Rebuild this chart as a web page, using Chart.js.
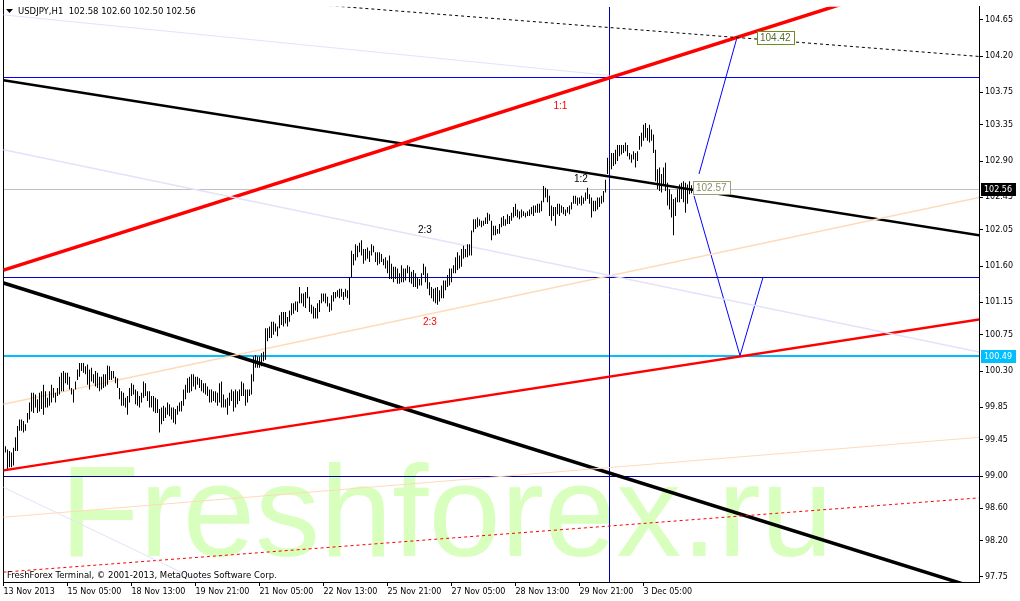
<!DOCTYPE html>
<html>
<head>
<meta charset="utf-8">
<script src="https://cdn.jsdelivr.net/npm/chart.js@4.4.1/dist/chart.umd.min.js"></script>
<style>
  body { margin: 0; background: #fff; }
  #wrap { width: 1020px; height: 601px; }
</style>
</head>
<body>
<div id="wrap"><canvas id="usdjpyChart" width="1020" height="601"></canvas></div>
<script>
// USDJPY H1 - maximas e minimas de cada barra (indice 0 = 13 Nov 21:00)
const highs = [
  99.44, 99.37, 99.33, 99.31, 99.29, 99.35, 99.48, 99.62, 99.70, 99.70,
  99.68, 99.64, 99.78, 99.91, 100.03, 100.03, 100.01, 99.95, 100.03, 100.05,
  100.13, 100.05, 99.97, 100.05, 100.13, 100.09, 100.03, 100.09, 100.23, 100.28,
  100.30, 100.28, 100.28, 100.23, 100.09, 100.07, 100.17, 100.32, 100.40, 100.40,
  100.40, 100.36, 100.38, 100.32, 100.34, 100.26, 100.30, 100.28, 100.23, 100.23,
  100.26, 100.26, 100.37, 100.36, 100.30, 100.30, 100.23, 100.21, 100.09, 100.05,
  100.03, 99.97, 99.99, 100.09, 100.15, 100.13, 100.07, 100.05, 99.99, 100.03,
  100.17, 100.15, 100.05, 100.05, 99.99, 99.99, 99.97, 99.95, 99.83, 99.85,
  99.87, 99.85, 99.91, 99.89, 99.85, 99.85, 99.83, 99.87, 99.91, 99.93,
  100.07, 100.13, 100.21, 100.23, 100.26, 100.26, 100.23, 100.23, 100.21, 100.19,
  100.15, 100.15, 100.11, 100.07, 100.07, 100.05, 100.05, 100.03, 100.15, 100.17,
  100.01, 99.95, 99.97, 100.03, 100.07, 100.05, 100.07, 100.05, 100.07, 100.17,
  100.15, 100.07, 100.07, 100.07, 100.26, 100.48, 100.50, 100.48, 100.48, 100.52,
  100.54, 100.83, 100.83, 100.85, 100.91, 100.91, 100.89, 100.85, 100.99, 101.03,
  101.03, 101.03, 100.97, 101.05, 101.14, 101.14, 101.16, 101.16, 101.34, 101.26,
  101.26, 101.28, 101.34, 101.22, 101.12, 101.10, 101.08, 101.14, 101.18, 101.26,
  101.26, 101.26, 101.22, 101.14, 101.24, 101.28, 101.28, 101.30, 101.32, 101.32,
  101.28, 101.32, 101.30, 101.46, 101.79, 101.75, 101.87, 101.85, 101.89, 101.92,
  101.81, 101.81, 101.83, 101.79, 101.87, 101.85, 101.77, 101.77, 101.77, 101.75,
  101.69, 101.71, 101.67, 101.73, 101.63, 101.59, 101.59, 101.57, 101.51, 101.61,
  101.57, 101.57, 101.61, 101.59, 101.53, 101.55, 101.51, 101.46, 101.44, 101.51,
  101.63, 101.59, 101.51, 101.40, 101.34, 101.32, 101.33, 101.34, 101.30, 101.36,
  101.42, 101.42, 101.49, 101.57, 101.57, 101.61, 101.71, 101.77, 101.73, 101.81,
  101.85, 101.81, 101.87, 101.87, 102.04, 102.18, 102.18, 102.20, 102.18, 102.16,
  102.16, 102.20, 102.26, 102.24, 102.16, 102.10, 102.10, 102.06, 102.12, 102.20,
  102.22, 102.18, 102.24, 102.22, 102.26, 102.33, 102.37, 102.30, 102.28, 102.30,
  102.28, 102.26, 102.28, 102.30, 102.33, 102.35, 102.35, 102.37, 102.37, 102.41,
  102.59, 102.57, 102.55, 102.47, 102.35, 102.33, 102.33, 102.37, 102.37, 102.35,
  102.33, 102.30, 102.33, 102.35, 102.39, 102.47, 102.47, 102.45, 102.45, 102.47,
  102.45, 102.51, 102.57, 102.49, 102.45, 102.41, 102.41, 102.45, 102.45, 102.47,
  102.53, 102.67, 102.94, 102.90, 103.00, 103.00, 103.04, 103.10, 103.10, 103.10,
  103.10, 103.13, 103.10, 103.00, 102.98, 103.02, 103.00, 103.02, 103.21, 103.25,
  103.35, 103.37, 103.31, 103.35, 103.29, 103.23, 103.04, 102.80, 102.82, 102.74,
  102.82, 102.88, 102.63, 102.55, 102.49, 102.43, 102.45, 102.55, 102.61, 102.63,
  102.65, 102.63, 102.61, 102.65, 102.60
];
const lows = [
  99.31, 99.29, 99.09, 99.11, 99.11, 99.13, 99.31, 99.31, 99.56, 99.56,
  99.54, 99.56, 99.66, 99.70, 99.80, 99.78, 99.85, 99.78, 99.80, 99.83,
  99.76, 99.85, 99.85, 99.87, 99.91, 99.97, 99.91, 99.99, 100.01, 100.05,
  100.05, 100.15, 100.13, 100.07, 100.01, 99.91, 100.07, 100.19, 100.23, 100.30,
  100.28, 100.26, 100.13, 100.07, 100.17, 100.15, 100.11, 100.09, 100.05, 100.07,
  100.09, 100.11, 100.13, 100.19, 100.19, 100.21, 100.15, 100.09, 99.95, 99.87,
  99.87, 99.85, 99.76, 99.91, 99.99, 100.01, 99.89, 99.87, 99.85, 99.91,
  99.97, 99.99, 99.93, 99.85, 99.85, 99.80, 99.78, 99.78, 99.54, 99.64,
  99.68, 99.72, 99.76, 99.74, 99.70, 99.66, 99.64, 99.76, 99.80, 99.80,
  99.87, 99.95, 100.03, 100.03, 100.05, 100.11, 100.07, 100.13, 100.09, 100.05,
  100.03, 100.01, 99.99, 99.91, 99.91, 99.93, 99.91, 99.87, 99.91, 99.85,
  99.85, 99.85, 99.76, 99.87, 99.93, 99.80, 99.85, 99.89, 99.93, 99.99,
  99.99, 99.87, 99.91, 99.99, 100.01, 100.17, 100.34, 100.34, 100.34, 100.36,
  100.42, 100.44, 100.67, 100.71, 100.71, 100.75, 100.79, 100.73, 100.83, 100.87,
  100.85, 100.89, 100.85, 100.91, 100.99, 101.01, 101.05, 101.03, 101.14, 101.14,
  101.10, 101.08, 101.20, 101.03, 101.01, 100.95, 100.95, 100.95, 101.03, 101.14,
  101.16, 101.14, 101.10, 101.03, 101.05, 101.16, 101.20, 101.22, 101.20, 101.22,
  101.18, 101.22, 101.20, 101.12, 101.46, 101.61, 101.67, 101.71, 101.77, 101.73,
  101.63, 101.67, 101.69, 101.65, 101.73, 101.77, 101.65, 101.61, 101.63, 101.65,
  101.61, 101.57, 101.51, 101.44, 101.44, 101.40, 101.44, 101.38, 101.38, 101.40,
  101.40, 101.42, 101.51, 101.40, 101.38, 101.34, 101.34, 101.32, 101.36, 101.36,
  101.49, 101.40, 101.32, 101.24, 101.20, 101.16, 101.14, 101.12, 101.16, 101.20,
  101.20, 101.30, 101.34, 101.36, 101.40, 101.51, 101.51, 101.55, 101.57, 101.59,
  101.69, 101.71, 101.71, 101.73, 101.73, 102.02, 102.06, 102.08, 102.10, 102.08,
  102.10, 102.12, 102.12, 102.16, 101.92, 101.98, 101.98, 102.00, 102.00, 102.08,
  102.10, 102.10, 102.12, 102.12, 102.16, 102.20, 102.22, 102.20, 102.18, 102.20,
  102.22, 102.20, 102.22, 102.22, 102.24, 102.22, 102.26, 102.26, 102.26, 102.28,
  102.39, 102.45, 102.39, 102.22, 102.16, 102.22, 102.10, 102.24, 102.22, 102.26,
  102.24, 102.22, 102.26, 102.24, 102.30, 102.37, 102.37, 102.35, 102.37, 102.35,
  102.37, 102.41, 102.43, 102.37, 102.20, 102.28, 102.28, 102.30, 102.33, 102.37,
  102.39, 102.51, 102.74, 102.78, 102.80, 102.84, 102.86, 102.90, 102.96, 102.98,
  103.00, 103.02, 102.96, 102.92, 102.88, 102.92, 102.82, 102.90, 103.04, 103.08,
  103.15, 103.19, 103.15, 103.13, 103.15, 103.00, 102.65, 102.55, 102.53, 102.51,
  102.59, 102.53, 102.35, 102.30, 102.20, 101.98, 102.22, 102.39, 102.39, 102.43,
  102.39, 102.26, 102.37, 102.49, 102.50
];

const priceTicks = [104.65, 104.20, 103.75, 103.35, 102.90, 102.45, 102.05, 101.60, 101.15,
  100.75, 100.30, 99.85, 99.45, 99.00, 98.60, 98.20, 97.75];
const timeTicks = [0, 32, 64, 96, 128, 160, 192, 224, 256, 288, 320];
const timeLabels = ['13 Nov 2013', '15 Nov 05:00', '18 Nov 13:00', '19 Nov 21:00', '21 Nov 05:00',
  '22 Nov 13:00', '25 Nov 21:00', '27 Nov 05:00', '28 Nov 13:00', '29 Nov 21:00', '3 Dec 05:00'];
const lastBar = [102.58, 102.60, 102.50, 102.56]; // O H L C

// linhas de tendencia: [barra, preco]
const redChannelTop = [[0, 101.55], [420, 104.85]];
const redChannelLow = [[0, 99.07], [488, 100.94]];
const blackTrendTop = [[0, 103.90], [488, 101.98]];
const blackTrendLow = [[0, 101.39], [488, 97.60]];
const lavenderA = [[0, 104.71], [303, 103.96]];
const lavenderB = [[0, 103.04], [488, 100.535]];
const lavenderC = [[0, 98.86], [110, 97.56]];
const peachA = [[0, 99.89], [488, 102.45]];
const peachB = [[0, 98.49], [488, 99.48]];
const redDotted = [[0, 97.81], [488, 98.73]];
const blackDashed = [[160, 104.83], [488, 104.195]];
const forecastUp = [[347.75, 102.74], [366.75, 104.43]];
const forecastZig = [[345.25, 102.47], [368.25, 100.49], [379.75, 101.46]];
const levelBlue = 103.94;
const levelMid = 101.46;
const level99 = 99.00;
const levelCyan = 100.49;
const currentPrice = 102.56;
const cursorBar = 303;
const priceTags = [[344.75, 102.57], [376.75, 104.42]];

function linha(pts, cor, largura, traco) {
  return {
    type: 'line',
    data: pts.map(p => ({ x: p[0], y: p[1] })),
    borderColor: cor,
    borderWidth: largura,
    borderDash: traco || [],
    pointRadius: 0,
    fill: false,
    tension: 0,
    clip: 0,
    order: 5
  };
}

const desenho = {
  id: 'desenho',
  beforeDatasetsDraw(chart) {
    const { ctx, chartArea: a } = chart;
    const xs = chart.scales.x, ys = chart.scales.y;
    ctx.save();
    ctx.beginPath();
    ctx.rect(a.left, a.top, a.right - a.left, a.bottom - a.top);
    ctx.clip();
    ctx.fillStyle = '#d9ffbf';
    ctx.font = '130px "Liberation Sans"';
    ctx.textBaseline = 'alphabetic';
    ctx.fillText('Freshforex.ru', 60, 556);
    // niveis horizontais e linha vertical, alinhados ao pixel
    const niveis = [[currentPrice, '#c0c0c0', 1], [levelBlue, '#0000ff', 1], [levelMid, '#0000c8', 1],
      [level99, '#0000a0', 1], [levelCyan, '#00bfff', 2]];
    niveis.forEach(n => {
      const y = Math.round(ys.getPixelForValue(n[0])) + (n[2] === 1 ? 0.5 : 0);
      ctx.strokeStyle = n[1];
      ctx.lineWidth = n[2];
      ctx.beginPath();
      ctx.moveTo(a.left, y);
      ctx.lineTo(a.right, y);
      ctx.stroke();
    });
    const xc = Math.floor(xs.getPixelForValue(cursorBar)) + 0.5;
    ctx.strokeStyle = '#0000b0';
    ctx.lineWidth = 1;
    ctx.beginPath();
    ctx.moveTo(xc, a.top);
    ctx.lineTo(xc, a.bottom);
    ctx.stroke();
    ctx.restore();
    ctx.save();
    ctx.strokeStyle = '#000';
    ctx.lineWidth = 1;
    ctx.beginPath();
    ctx.moveTo(a.left + 0.5, 0);
    ctx.lineTo(a.left + 0.5, a.bottom);
    ctx.stroke();
    ctx.restore();
  },
  afterDatasetsDraw(chart) {
    const { ctx } = chart;
    const xs = chart.scales.x, ys = chart.scales.y;
    ctx.save();
    ctx.font = '10px "Liberation Sans"';
    ctx.textBaseline = 'middle';
    ctx.textAlign = 'left';
    const marcas = [['1:1', 275, 103.58, '#ff0000'], ['1:2', 285.25, 102.67, '#000'],
      ['2:3', 207.25, 102.04, '#000'], ['2:3', 209.75, 100.91, '#ff0000']];
    marcas.forEach(m => {
      ctx.fillStyle = m[3];
      ctx.fillText(m[0], xs.getPixelForValue(m[1]), ys.getPixelForValue(m[2]));
    });
    priceTags.forEach((t, k) => {
      const x = Math.round(xs.getPixelForValue(t[0]));
      const y = Math.round(ys.getPixelForValue(t[1]));
      const txt = t[1].toFixed(2);
      const w = Math.round(ctx.measureText(txt).width) + 6;
      ctx.fillStyle = '#fff';
      ctx.fillRect(x, y - 7, w, 14);
      ctx.strokeStyle = k === 0 ? '#9aa070' : '#6b8e23';
      ctx.lineWidth = 1;
      ctx.strokeRect(x + 0.5, y - 6.5, w, 13);
      ctx.fillStyle = k === 0 ? '#8a8f60' : '#556b2f';
      ctx.fillText(txt, x + 3, y + 0.5);
    });
    ctx.restore();
  },
  afterDraw(chart) {
    const { ctx, chartArea: a } = chart;
    const ys = chart.scales.y;
    ctx.save();
    ctx.font = '8px "DejaVu Sans"';
    ctx.textBaseline = 'middle';
    [[currentPrice, '#000'], [levelCyan, '#00bfff']].forEach(b => {
      const y = Math.round(ys.getPixelForValue(b[0]));
      ctx.fillStyle = b[1];
      ctx.fillRect(a.right + 2, y - 6, 35, 13);
      ctx.fillStyle = '#fff';
      ctx.fillText(b[0].toFixed(2), a.right + 5, y + 0.5);
    });
    // titulo
    ctx.font = '8.5px "DejaVu Sans"';
    ctx.fillStyle = '#000';
    ctx.beginPath();
    ctx.moveTo(6, 9); ctx.lineTo(13, 9); ctx.lineTo(9.5, 13); ctx.closePath();
    ctx.fill();
    ctx.fillText('USDJPY,H1  ' + lastBar.map(v => v.toFixed(2)).join(' '), 18, 11.5);
    ctx.textBaseline = 'alphabetic';
    ctx.fillText('FreshForex Terminal, \u00a9 2001-2013, MetaQuotes Software Corp.', 7, 578);
    ctx.restore();
  }
};

const barras = highs.map((h, i) => ({ x: i, y: [lows[i], h] }));

const config = {
  type: 'bar',
  data: {
    datasets: [
      {
        type: 'bar',
        data: barras,
        backgroundColor: '#000',
        borderWidth: 0,
        barThickness: 1,
        inflateAmount: 0,
        order: 0
      },
      linha(lavenderA, '#e2e2fa', 1),
      linha(lavenderB, '#e2e2fa', 1.5),
      linha(lavenderC, '#e2e2fa', 1),
      linha(peachA, '#ffdab9', 1.5),
      linha(peachB, '#ffdab9', 1),
      linha(redDotted, '#ff0000', 1, [3, 3]),
      linha(blackDashed, '#000', 1, [3, 3]),
      linha(redChannelLow, '#ff0000', 2.5),
      linha(redChannelTop, '#ff0000', 3.5),
      linha(blackTrendTop, '#000', 2.5),
      linha(blackTrendLow, '#000', 3.5),
      linha(forecastUp, '#0000ff', 1),
      linha(forecastZig, '#0000ff', 1)
    ]
  },
  options: {
    responsive: false,
    animation: false,
    devicePixelRatio: 1,
    layout: { padding: { left: 3, top: 3, right: 0, bottom: 0 } },
    plugins: { legend: { display: false }, tooltip: { enabled: false } },
    scales: {
      x: {
        type: 'linear',
        min: -0.25,
        max: 487.75,
        offset: false,
        afterFit(s) { s.height = 19; },
        afterBuildTicks(s) { s.ticks = timeTicks.map(v => ({ value: v })); },
        border: { display: true, color: '#000' },
        grid: { drawOnChartArea: false, offset: false, tickLength: 4, color: '#000' },
        ticks: {
          align: 'start', autoSkip: false, maxRotation: 0, padding: 1, color: '#000',
          font: { family: 'DejaVu Sans', size: 8 },
          callback: (v, i) => timeLabels[i]
        }
      },
      y: {
        position: 'right',
        min: 97.688,
        max: 104.81,
        afterFit(s) { s.width = 41; },
        afterBuildTicks(s) { s.ticks = priceTicks.map(v => ({ value: v })); },
        border: { display: true, color: '#000' },
        grid: { drawOnChartArea: false, tickLength: 4, color: '#000' },
        ticks: {
          autoSkip: false, padding: 2, color: '#000',
          font: { family: 'DejaVu Sans', size: 8 },
          callback: v => v.toFixed(2)
        }
      }
    }
  },
  plugins: [desenho]
};

new Chart(document.getElementById('usdjpyChart').getContext('2d'), config);
</script>
</body>
</html>
